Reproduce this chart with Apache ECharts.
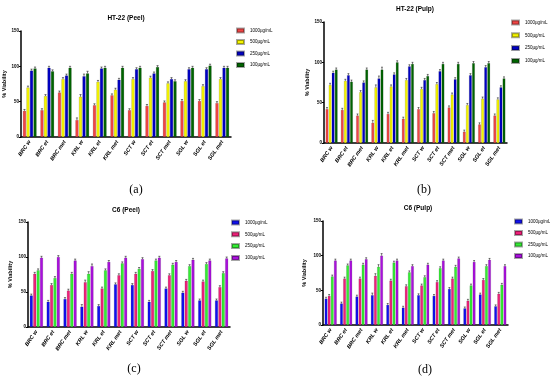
<!DOCTYPE html>
<html>
<head>
<meta charset="utf-8">
<script src="https://cdn.jsdelivr.net/npm/echarts@6/dist/echarts.min.js"></script>
<style>html,body{margin:0;padding:0;background:#fff}#c{width:550px;height:378px}</style>
</head>
<body>
<div id="c"></div>
<script>
const categories = ['BRC w','BRC et','BRC met','KRL w','KRL et','KRL met','SCT w','SCT et','SCT met','SGL w','SGL et','SGL met'];
const concentrations = ['1000µg/mL','500µg/mL','250µg/mL','100µg/mL'];
const yTicks = [0, 50, 100, 150];

const ht22Peel1000 = [37,38,63,24,45,59,38,44,49,51,51,48];
const ht22Peel500  = [70,58,82,57,78,67,82,84,76,79,72,82];
const ht22Peel250  = [94,98,87,86,97,81,96,90,82,96,96,98];
const ht22Peel100  = [97,93,98,90,98,98,98,99,79,98,101,98];

const ht22Pulp1000 = [42,41,34,25,36,30,42,37,44,14,23,34];
const ht22Pulp500  = [72,77,63,69,70,78,67,73,60,47,55,54];
const ht22Pulp250  = [87,84,75,80,85,95,78,89,79,84,94,69];
const ht22Pulp100  = [91,76,91,91,100,98,83,98,98,99,99,80];

const c6Peel1000 = [45,36,40,29,30,61,60,36,55,49,38,38];
const c6Peel500  = [76,60,52,64,55,74,76,80,74,66,65,57];
const c6Peel250  = [81,70,76,76,81,91,83,95,89,87,90,77];
const c6Peel100  = [99,100,95,87,93,99,97,99,93,96,95,98];

const c6Pulp1000 = [38,31,41,43,29,25,43,42,52,24,44,27];
const c6Pulp500  = [42,67,67,71,64,56,57,62,67,35,65,45];
const c6Pulp250  = [70,86,87,84,90,76,69,82,84,57,85,58];
const c6Pulp100  = [93,93,95,100,93,85,87,93,96,91,94,85];

const errSmall = [2,2,2,3,2,2,2,2,2,2,2,2];

const panels = [
  {key:'a', title:'HT-22 (Peel)', caption:'(a)', data:[ht22Peel1000,ht22Peel500,ht22Peel250,ht22Peel100],
   colors:['#f24545','#f5f500','#0000c4','#006400'],
   grid:{left:21, top:31, width:210, height:106}, titlePos:[126,18], capPos:[136,190],
   legend:{left:236, top:27.5, itemGap:5.5}, nameGap:14},
  {key:'b', title:'HT-22 (Pulp)', caption:'(b)', data:[ht22Pulp1000,ht22Pulp500,ht22Pulp250,ht22Pulp100],
   colors:['#f24545','#f5f500','#0000c4','#006400'],
   grid:{left:324, top:22, width:183, height:121}, titlePos:[415,9], capPos:[424,190],
   legend:{left:511, top:19.5, itemGap:6.8}, nameGap:14},
  {key:'c', title:'C6 (Peel)', caption:'(c)', data:[c6Peel1000,c6Peel500,c6Peel250,c6Peel100],
   colors:['#1010f0','#f0207a','#33ee33','#aa10dd'],
   grid:{left:28, top:222, width:202, height:105}, titlePos:[126,210], capPos:[134,369],
   legend:{left:231, top:219.5, itemGap:5.8}, nameGap:15},
  {key:'d', title:'C6 (Pulp)', caption:'(d)', data:[c6Pulp1000,c6Pulp500,c6Pulp250,c6Pulp100],
   colors:['#1010f0','#f0207a','#33ee33','#aa10dd'],
   grid:{left:323, top:221, width:185, height:104}, titlePos:[418,208], capPos:[425,370],
   legend:{left:514, top:218.5, itemGap:5.5}, nameGap:16}
];

const CAT_GAP = 0.22, BAR_GAP = 0.15;
const grid = [], xAxis = [], yAxis = [], series = [], legend = [], graphic = [];

panels.forEach((p, gi) => {
  grid.push(Object.assign({containLabel:false}, p.grid));
  xAxis.push({
    type:'category', gridIndex:gi, data:categories,
    axisLine:{lineStyle:{color:'#000', width:1.5}},
    axisTick:{alignWithLabel:true, length:2.5, lineStyle:{color:'#000', width:1}},
    axisLabel:{interval:0, rotate:55, fontSize:5.5, fontWeight:'bold', fontStyle:'italic',
      color:'#000', margin:4, fontFamily:'Liberation Sans'}
  });
  yAxis.push({
    type:'value', gridIndex:gi, min:0, max:150, interval:50,
    name:'% Viability', nameLocation:'middle', nameRotate:90, nameGap:p.nameGap,
    nameTextStyle:{fontSize:5.5, fontWeight:'bold', color:'#000', fontFamily:'Liberation Sans'},
    axisLine:{show:true, lineStyle:{color:'#000', width:1.5}},
    axisTick:{show:true, length:2, lineStyle:{color:'#000', width:1}},
    axisLabel:{fontSize:4.5, fontWeight:'bold', color:'#000', margin:2, fontFamily:'Liberation Sans',
      formatter: v => yTicks.indexOf(v) >= 0 ? String(v) : ''},
    splitLine:{show:false}
  });
  const names = [];
  p.data.forEach((arr, si) => {
    const nm = p.key + '|' + concentrations[si];
    names.push(nm);
    series.push({
      type:'bar', name:nm, xAxisIndex:gi, yAxisIndex:gi, data:arr,
      barCategoryGap:(CAT_GAP*100)+'%', barGap:(BAR_GAP*100)+'%',
      itemStyle:{color:p.colors[si], borderColor:'rgba(0,0,0,0.35)', borderWidth:0.4},
      emphasis:{disabled:true}, animation:false
    });
  });
  const errData = [];
  p.data.forEach((arr, si) => arr.forEach((v, ci) => errData.push([ci, v, si, errSmall[ci]])));
  series.push({
    type:'custom', xAxisIndex:gi, yAxisIndex:gi, data:errData, silent:true, animation:false, z:5,
    renderItem:(params, api) => {
      const ci = api.value(0), v = api.value(1), si = api.value(2), e = api.value(3);
      const band = api.size([1,0])[0];
      const used = band*(1-CAT_GAP);
      const w = used/(4 + 3*BAR_GAP);
      const c = api.coord([ci, v]);
      const x = c[0] - used/2 + si*w*(1+BAR_GAP) + w/2;
      const top = api.coord([ci, v + e])[1];
      const cap = w*0.35;
      return {type:'group', children:[
        {type:'line', shape:{x1:x, y1:c[1], x2:x, y2:top}, style:{stroke:'#222', lineWidth:0.6}},
        {type:'line', shape:{x1:x-cap, y1:top, x2:x+cap, y2:top}, style:{stroke:'#222', lineWidth:0.6}}
      ]};
    }
  });
  legend.push({
    orient:'vertical', left:p.legend.left, top:p.legend.top, itemGap:p.legend.itemGap, padding:0,
    itemWidth:7, itemHeight:4, icon:'rect', data:names,
    formatter: n => n.split('|')[1],
    textStyle:{fontSize:4.5, color:'#000', fontFamily:'Liberation Sans', padding:[0,0,0,1]},
    selectedMode:false
  });
  graphic.push({type:'text', silent:true,
    style:{text:p.title, x:p.titlePos[0], y:p.titlePos[1], fontSize:6.5, fontWeight:'bold', fill:'#000',
      fontFamily:'Liberation Sans', textAlign:'center', textVerticalAlign:'middle'}});
  graphic.push({type:'text', silent:true,
    style:{text:p.caption, x:p.capPos[0], y:p.capPos[1], fontSize:12, fill:'#000', fontFamily:'Liberation Serif',
      textAlign:'center', textVerticalAlign:'middle'}});
});

const chart = echarts.init(document.getElementById('c'), null, {renderer:'canvas'});
chart.setOption({animation:false, grid, xAxis, yAxis, series, legend, graphic});
</script>
</body>
</html>
